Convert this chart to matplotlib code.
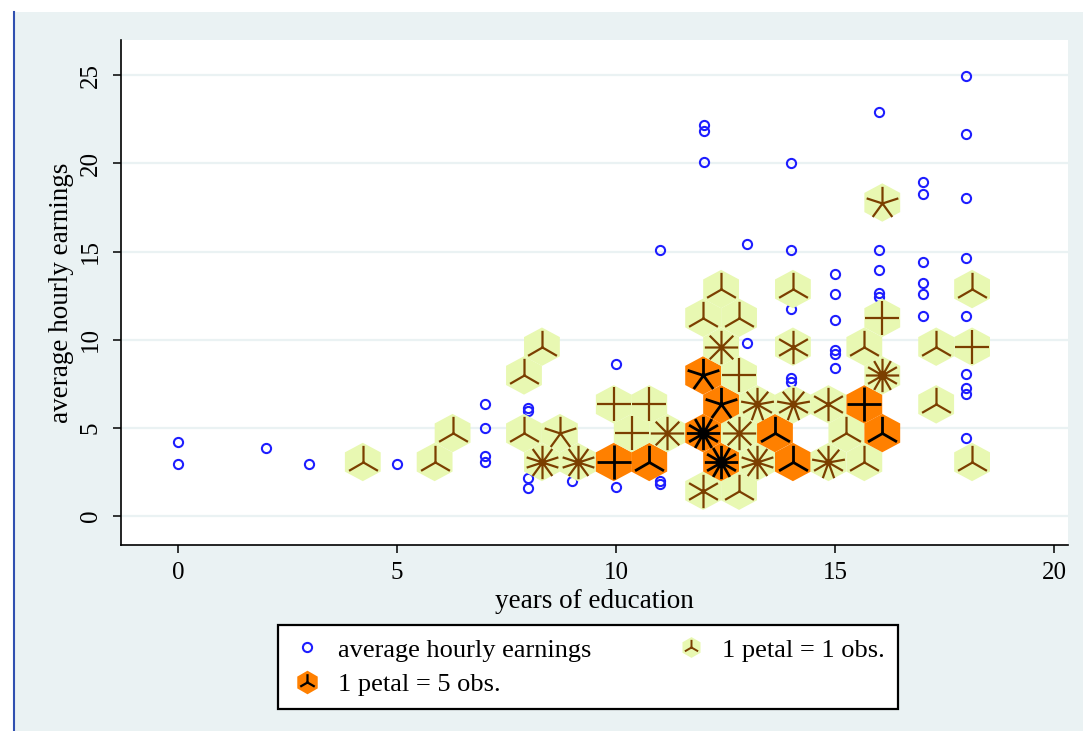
import numpy as np
import matplotlib
matplotlib.use("Agg")
import matplotlib.pyplot as plt
from matplotlib.path import Path
from matplotlib.markers import MarkerStyle
from matplotlib.patches import Polygon, Rectangle
from matplotlib.lines import Line2D
from matplotlib.legend_handler import HandlerTuple

# ---------------- data ----------------
# individual observations plotted as hollow circles
obs_educ = [0, 0, 2, 3, 5,
            7, 7, 7, 7,
            8, 8, 8, 8,
            9,
            10, 10,
            11, 11, 11,
            12, 12, 12,
            13, 13,
            14, 14, 14, 14, 14,
            15, 15, 15, 15, 15, 15,
            16, 16, 16, 16, 16,
            17, 17, 17, 17, 17, 17,
            18, 18, 18, 18, 18, 18, 18, 18, 18]
obs_wage = [4.2, 2.95, 3.85, 2.95, 2.95,
            6.35, 5.0, 3.4, 3.05,
            6.1, 5.95, 2.15, 1.6,
            2.0,
            8.6, 1.65,
            15.1, 2.0, 1.8,
            22.2, 21.85, 20.1,
            15.4, 9.8,
            20.0, 15.1, 11.75, 7.85, 7.6,
            13.75, 12.6, 11.1, 9.4, 9.2, 8.4,
            22.9, 15.1, 13.95, 12.65, 12.4,
            18.95, 18.25, 14.4, 13.2, 12.6, 11.35,
            24.95, 21.65, 18.05, 14.65, 11.35, 8.05, 7.25, 6.9, 4.4]

# sunflowers: bin centre (x, y), number of petals, dark (1) or light (0)
sf_x = [11.99, 12.81,
        4.22, 5.86, 8.31, 9.13, 9.95, 10.76, 12.40, 13.22, 14.04, 14.85, 15.67, 18.13,
        6.27, 7.90, 8.72, 10.36, 11.17, 11.99, 12.81, 13.63, 15.26, 16.08,
        9.95, 10.76, 12.40, 13.22, 14.04, 14.85, 15.67, 17.31,
        7.90, 11.99, 12.81, 16.08,
        8.31, 12.40, 14.04, 15.67, 17.31, 18.13,
        11.99, 12.81, 16.08,
        12.40, 14.04, 18.13,
        16.08]
sf_y = [1.43, 1.43,
        3.06, 3.06, 3.06, 3.06, 3.06, 3.06, 3.06, 3.06, 3.06, 3.06, 3.06, 3.06,
        4.70, 4.70, 4.70, 4.70, 4.70, 4.70, 4.70, 4.70, 4.70, 4.70,
        6.33, 6.33, 6.33, 6.33, 6.33, 6.33, 6.33, 6.33,
        7.97, 7.97, 7.97, 7.97,
        9.60, 9.60, 9.60, 9.60, 9.60, 9.60,
        11.24, 11.24, 11.24,
        12.87, 12.87, 12.87,
        17.78]
sf_petals = [6, 3,
             3, 3, 10, 10, 4, 3, 12, 10, 3, 9, 3, 3,
             3, 3, 5, 4, 8, 12, 8, 3, 3, 3,
             4, 4, 5, 9, 9, 6, 4, 3,
             3, 5, 4, 12,
             3, 8, 6, 3, 3, 4,
             3, 3, 4,
             3, 3, 3,
             5]
sf_dark = [0, 0,
           0, 0, 0, 0, 1, 1, 1, 0, 1, 0, 0, 0,
           0, 0, 0, 0, 0, 1, 0, 1, 0, 1,
           0, 0, 1, 0, 0, 0, 1, 0,
           0, 1, 0, 0,
           0, 0, 0, 0, 0, 0,
           0, 0, 0,
           0, 0, 0,
           0]

x_ticks = [0, 5, 10, 15, 20]
y_ticks = [0, 5, 10, 15, 20, 25]
x_label = "years of education"
y_label = "average hourly earnings"
legend_labels = ["average hourly earnings", "1 petal = 5 obs.", "1 petal = 1 obs."]

# ---------------- style ----------------
BG = "#EAF2F3"
LIGHT_FILL = "#E8F8B2"
LIGHT_PETAL = "#7B3F00"
DARK_FILL = "#FF8000"
DARK_PETAL = "#000000"
PT_COLOR = "#1E1EFF"
HEX_HW = 0.409   # half width of a bin (x units)
HEX_HH = 1.09    # half height of a bin (y units)

plt.rcParams["font.family"] = ["Liberation Serif", "DejaVu Serif"]

W, H = 1083, 731
fig = plt.figure(figsize=(W / 100, H / 100), dpi=100, facecolor="white")
fig.patches.append(Rectangle((14 / W, 0), 1 - 14 / W, 1 - 12 / H, transform=fig.transFigure,
                             facecolor=BG, edgecolor="none", zorder=-10))
fig.lines.append(Line2D([14 / W, 14 / W], [0, 1 - 12 / H], transform=fig.transFigure,
                        color="#3050B0", lw=1.5, zorder=-9))

ax = fig.add_axes([121 / W, 1 - 545 / H, (1068 - 121) / W, (545 - 40) / H])
ax.set_facecolor("white")
ax.set_xlim(-1.30, 20.32)
ax.set_ylim(-1.65, 27.0)


def petal_marker(n):
    verts, codes = [], []
    for i in range(n):
        a = np.pi / 2 + 2 * np.pi * i / n
        verts += [(0, 0), (np.cos(a), np.sin(a))]
        codes += [Path.MOVETO, Path.LINETO]
    return MarkerStyle(Path(verts, codes), fillstyle="none")


# observations (drawn beneath the sunflowers)
ax.plot(obs_educ, obs_wage, ls="none", marker="o", ms=6.6, mfc="none",
        mec=PT_COLOR, mew=1.5, zorder=2)

# hexagonal bins
for x, y, d in zip(sf_x, sf_y, sf_dark):
    hv = [(x, y + HEX_HH), (x - HEX_HW, y + HEX_HH / 2), (x - HEX_HW, y - HEX_HH / 2),
          (x, y - HEX_HH), (x + HEX_HW, y - HEX_HH / 2), (x + HEX_HW, y + HEX_HH / 2)]
    ax.add_patch(Polygon(hv, closed=True, facecolor=DARK_FILL if d else LIGHT_FILL,
                         edgecolor="none", zorder=3))

# petals
for x, y, n, d in zip(sf_x, sf_y, sf_petals, sf_dark):
    ax.plot([x], [y], ls="none", marker=petal_marker(n), ms=24,
            mec=DARK_PETAL if d else LIGHT_PETAL, mew=2.0 if d else 1.6, zorder=4)

# axes styling
for s in ["top", "right"]:
    ax.spines[s].set_visible(False)
for s in ["left", "bottom"]:
    ax.spines[s].set_linewidth(1.2)
ax.set_xticks(x_ticks)
ax.set_yticks(y_ticks)
ax.tick_params(axis="both", direction="out", length=6, width=1.1, labelsize=18, colors="black")
ax.tick_params(axis="x", pad=6)
ax.tick_params(axis="y", pad=8)
for lab in ax.get_yticklabels():
    lab.set_rotation(90)
    lab.set_va("center")
ax.yaxis.grid(True, color=BG, lw=1.6)
ax.xaxis.grid(False)
ax.set_axisbelow(True)
ax.set_xlabel(x_label, fontsize=19.5, labelpad=4)
ax.set_ylabel(y_label, fontsize=19.5, labelpad=4)

# legend
h_pts = Line2D([], [], ls="none", marker="o", ms=6.6, mfc="none", mec=PT_COLOR, mew=1.5)
h_dark = (Line2D([], [], ls="none", marker="h", ms=17, mfc=DARK_FILL, mec="none"),
          Line2D([], [], ls="none", marker=petal_marker(3), ms=12, mec=DARK_PETAL, mew=1.6))
h_light = (Line2D([], [], ls="none", marker="h", ms=15, mfc=LIGHT_FILL, mec="none"),
           Line2D([], [], ls="none", marker=petal_marker(3), ms=11, mec=LIGHT_PETAL, mew=1.4))
leg = fig.legend([h_pts, h_dark, h_light], legend_labels, ncol=2, loc="center",
                 bbox_to_anchor=(588 / W, 1 - 667 / H), fontsize=19,
                 handler_map={tuple: HandlerTuple(ndivide=1)},
                 frameon=True, fancybox=False, framealpha=1, edgecolor="black",
                 handlelength=1.2, handletextpad=0.55, columnspacing=3.2,
                 borderpad=0.5, labelspacing=0.4)
leg.get_frame().set_linewidth(1.6)

fig.savefig("out.png", dpi=100, facecolor=fig.get_facecolor())
